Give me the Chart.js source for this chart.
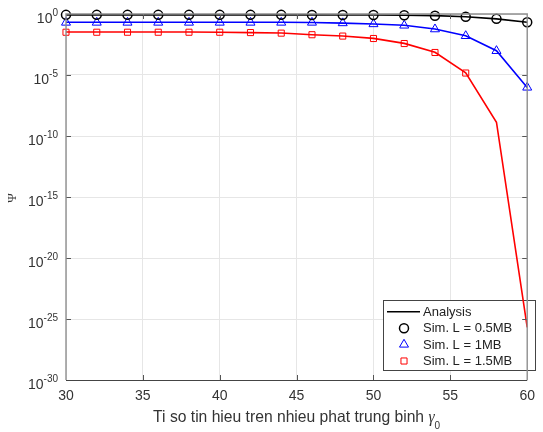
<!DOCTYPE html>
<html>
<head>
<meta charset="utf-8">
<script src="https://cdn.jsdelivr.net/npm/chart.js@4"></script>
<style>
  body { margin: 0; background: #fff; }
  #wrap { width: 543px; height: 432px; }
</style>
</head>
<body>
<div id="wrap"><canvas id="psi" width="543" height="432"></canvas></div>
<script>
const snrDb = [30, 32, 34, 36, 38, 40, 42, 44, 46, 48, 50, 52, 54, 56, 58, 60];
const xTicks = [30, 35, 40, 45, 50, 55, 60];
const yExponents = [0, -5, -10, -15, -20, -25, -30];

// analysis curves
const anaL05 = [0.85, 0.85, 0.85, 0.85, 0.85, 0.85, 0.85, 0.85, 0.84, 0.83, 0.82, 0.79, 0.73, 0.6, 0.4, 0.21];
const anaL1 = [0.21, 0.21, 0.21, 0.21, 0.21, 0.21, 0.21, 0.21, 0.2, 0.18, 0.15, 0.118, 0.059, 0.0166, 9.7e-4, 9.6e-7];
const anaL15 = [0.033, 0.033, 0.033, 0.033, 0.033, 0.032, 0.03, 0.0275, 0.02, 0.0156, 0.01, 3.9e-3, 7.2e-4, 1.5e-5, 1.35e-9, 2.1e-26];

// simulation points
const simL05 = [0.85, 0.85, 0.85, 0.85, 0.85, 0.85, 0.85, 0.85, 0.84, 0.83, 0.82, 0.79, 0.73, 0.6, 0.4, 0.21];
const simL1 = [0.2, 0.2, 0.2, 0.2, 0.2, 0.2, 0.2, 0.2, 0.2, 0.18, 0.15, 0.115, 0.057, 0.016, 9.5e-4, 9.5e-7];
const simL15 = [0.032, 0.032, 0.032, 0.032, 0.032, 0.032, 0.03, 0.027, 0.02, 0.0155, 0.0098, 3.8e-3, 7e-4, 1.45e-5];

const legendLabels = ["Analysis", "Sim. L = 0.5MB", "Sim. L = 1MB", "Sim. L = 1.5MB"];

const pts = (ys) => ys.map((y, i) => ({ x: snrDb[i], y: y }));

const sans = "'Liberation Sans', Arial, sans-serif";
const serif = "'Liberation Serif', 'DejaVu Serif', serif";

const matlabLook = {
  id: "matlabLook",
  beforeDatasetsDraw(chart) {
    // legend sits under the curves (the red line crosses its corner)
    const ctx = chart.ctx;
    ctx.save();
    const bx = 383.5, by = 300.5, bw = 152, bh = 70;
    ctx.fillStyle = "#fff";
    ctx.fillRect(bx, by, bw, bh);
    ctx.strokeStyle = "#444";
    ctx.lineWidth = 1;
    ctx.strokeRect(bx, by, bw, bh);

    const rows = [311.7, 328.3, 344.5, 361];
    ctx.font = "13px " + sans;
    ctx.fillStyle = "#222";
    ctx.textBaseline = "middle";
    ctx.textAlign = "left";
    legendLabels.forEach((t, i) => ctx.fillText(t, 423, rows[i] + 0.5));

    ctx.strokeStyle = "#000";
    ctx.lineWidth = 1.5;
    ctx.beginPath();
    ctx.moveTo(387, rows[0]); ctx.lineTo(420, rows[0]);
    ctx.stroke();

    const mk = [
      { style: "circle", r: 4.5, color: "#000", w: 1.5 },
      { style: "triangle", r: 5.2, color: "#0000ff", w: 1 },
      { style: "rect", r: 4.3, color: "#ff0000", w: 1 }
    ];
    mk.forEach((m, i) => {
      ctx.strokeStyle = m.color;
      ctx.fillStyle = "rgba(0,0,0,0)";
      ctx.lineWidth = m.w;
      Chart.helpers.drawPoint(ctx, { pointStyle: m.style, radius: m.r, borderWidth: m.w, rotation: 0 }, 404, rows[i + 1]);
    });
    ctx.restore();
  },
  afterDatasetsDraw(chart) {
    const ctx = chart.ctx;
    const a = chart.chartArea;
    const xs = chart.scales.x;
    const ys = chart.scales.y;
    ctx.save();

    // inward ticks
    ctx.strokeStyle = "#555";
    ctx.lineWidth = 1;
    xTicks.slice(1, -1).forEach((v) => {
      const px = Math.round(xs.getPixelForValue(v)) + 0.5;
      ctx.beginPath();
      ctx.moveTo(px, a.bottom); ctx.lineTo(px, a.bottom - 5);
      ctx.moveTo(px, a.top); ctx.lineTo(px, a.top + 5);
      ctx.stroke();
    });
    yExponents.slice(1, -1).forEach((e) => {
      const py = Math.round(ys.getPixelForValue(Math.pow(10, e))) + 0.5;
      ctx.beginPath();
      ctx.moveTo(a.left, py); ctx.lineTo(a.left + 5, py);
      ctx.moveTo(a.right, py); ctx.lineTo(a.right - 5, py);
      ctx.stroke();
    });

    // box
    ctx.strokeStyle = "#8f8f8f";
    ctx.lineWidth = 1.4;
    ctx.beginPath();
    ctx.moveTo(a.left, a.bottom); ctx.lineTo(a.left, a.top);
    ctx.lineTo(a.right, a.top); ctx.lineTo(a.right, a.bottom);
    ctx.stroke();
    ctx.strokeStyle = "#444";
    ctx.lineWidth = 1;
    ctx.beginPath();
    ctx.moveTo(a.left, Math.round(a.bottom) + 0.5);
    ctx.lineTo(a.right, Math.round(a.bottom) + 0.5);
    ctx.stroke();

    // y tick labels 10^n
    ctx.fillStyle = "#333";
    ctx.textBaseline = "alphabetic";
    ctx.textAlign = "left";
    yExponents.forEach((e) => {
      const py = ys.getPixelForValue(Math.pow(10, e));
      ctx.font = "14px " + sans;
      const wb = ctx.measureText("10").width;
      ctx.font = "10px " + sans;
      const exp = e === 0 ? "0" : "-" + Math.abs(e);
      const we = ctx.measureText(exp).width;
      const x0 = 58 - wb - we;
      ctx.font = "14px " + sans;
      ctx.fillText("10", x0, py + 8.5);
      ctx.font = "10px " + sans;
      ctx.fillText(exp, x0 + wb, py + 2);
    });

    // x title
    const main = "Ti so tin hieu tren nhieu phat trung binh ";
    ctx.font = "15px " + sans;
    const size = 15 * 271 / ctx.measureText(main.trim()).width;
    ctx.font = size.toFixed(2) + "px " + sans;
    const wm = ctx.measureText(main).width;
    ctx.font = "italic " + size.toFixed(2) + "px " + serif;
    const wg = ctx.measureText("γ").width;
    ctx.font = "10px " + sans;
    const ws = ctx.measureText("0").width;
    let tx = (a.left + a.right) / 2 - (wm + wg + ws) / 2;
    ctx.font = size.toFixed(2) + "px " + sans;
    ctx.fillText(main, tx, 421.5);
    tx += wm;
    ctx.font = "italic " + size.toFixed(2) + "px " + serif;
    ctx.fillText("γ", tx, 421.5);
    tx += wg;
    ctx.font = "10px " + sans;
    ctx.fillText("0", tx, 429);

    // y title
    ctx.save();
    ctx.translate(13, (a.top + a.bottom) / 2 + 1);
    ctx.rotate(-Math.PI / 2);
    ctx.textAlign = "center";
    ctx.textBaseline = "middle";
    ctx.font = "13px " + serif;
    ctx.fillText("Ψ", 0, 0);
    ctx.restore();

    ctx.restore();
  }
};

const ctx = document.getElementById("psi").getContext("2d");

const chart = new Chart(ctx, {
  type: "scatter",
  data: {
    datasets: [
      {
        label: "Sim. L = 0.5MB",
        data: pts(simL05),
        showLine: false,
        pointStyle: "circle",
        pointRadius: 4.5,
        pointBorderWidth: 1.5,
        pointBorderColor: "#000",
        pointBackgroundColor: "rgba(0,0,0,0)",
        clip: false
      },
      {
        label: "Sim. L = 1MB",
        data: pts(simL1),
        showLine: false,
        pointStyle: "triangle",
        pointRadius: 5.2,
        pointBorderWidth: 1,
        pointBorderColor: "#0000ff",
        pointBackgroundColor: "rgba(0,0,0,0)",
        clip: false
      },
      {
        label: "Sim. L = 1.5MB",
        data: pts(simL15),
        showLine: false,
        pointStyle: "rect",
        pointRadius: 4.3,
        pointBorderWidth: 1,
        pointBorderColor: "#ff0000",
        pointBackgroundColor: "rgba(0,0,0,0)",
        clip: false
      },
      {
        label: "Analysis L = 0.5MB",
        data: pts(anaL05),
        showLine: true,
        borderColor: "#000",
        borderWidth: 1.6,
        pointRadius: 0,
        clip: false
      },
      {
        label: "Analysis L = 1MB",
        data: pts(anaL1),
        showLine: true,
        borderColor: "#0000ff",
        borderWidth: 1.6,
        pointRadius: 0,
        clip: false
      },
      {
        label: "Analysis L = 1.5MB",
        data: pts(anaL15),
        showLine: true,
        borderColor: "#ff0000",
        borderWidth: 1.6,
        pointRadius: 0,
        clip: false
      }
    ]
  },
  options: {
    responsive: false,
    animation: false,
    layout: { padding: { left: 0, top: 14, right: 7, bottom: 0 } },
    plugins: {
      legend: { display: false },
      tooltip: { enabled: false }
    },
    scales: {
      x: {
        type: "linear",
        min: 30,
        max: 60,
        afterBuildTicks: (s) => { s.ticks = xTicks.map((v) => ({ value: v })); },
        afterFit: (s) => { s.height = 52; },
        ticks: {
          padding: 8,
          maxRotation: 0,
          color: "#333",
          font: { family: sans, size: 14 }
        },
        grid: { color: "#e6e6e6", drawTicks: false },
        border: { display: false }
      },
      y: {
        type: "logarithmic",
        min: 1e-30,
        max: 1,
        afterBuildTicks: (s) => { s.ticks = yExponents.map((e) => ({ value: Math.pow(10, e) })); },
        afterFit: (s) => { s.width = 66; },
        ticks: { display: false },
        grid: { color: "#e6e6e6", drawTicks: false },
        border: { display: false }
      }
    }
  },
  plugins: [matlabLook]
});
</script>
</body>
</html>
